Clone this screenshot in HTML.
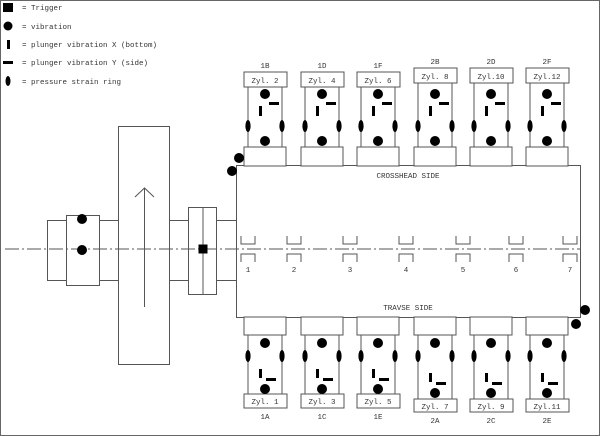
<!DOCTYPE html>
<html><head><meta charset="utf-8"><style>
html,body{margin:0;padding:0;background:#fff}
svg{display:block}
text{font-family:"Liberation Mono",monospace;font-size:7.5px;fill:#333;text-anchor:middle}
</style></head><body>
<svg width="600" height="436" viewBox="0 0 600 436" xmlns="http://www.w3.org/2000/svg">
<defs>
<g id="marksT" stroke="none" fill="#000">
<circle cx="0" cy="94" r="5"/><circle cx="0" cy="141" r="5"/>
<ellipse cx="-17" cy="126" rx="2.6" ry="6"/><ellipse cx="17" cy="126" rx="2.6" ry="6"/>
<rect x="4" y="102" width="10" height="3"/><rect x="-6" y="106" width="3" height="10"/>
</g>
<g id="top" stroke="#555" stroke-width="1" fill="#fff">
<rect x="-21" y="147" width="42" height="19"/>
<rect x="-17" y="87" width="34" height="60"/>
<rect x="-21" y="72" width="43" height="15"/>
<use href="#marksT"/>
</g>
<g id="top2" stroke="#555" stroke-width="1" fill="#fff">
<rect x="-21" y="147" width="42" height="19"/>
<rect x="-17" y="83" width="34" height="64"/>
<rect x="-21" y="68" width="43" height="15"/>
<use href="#marksT"/>
</g>
<g id="bot" stroke="#555" stroke-width="1" fill="#fff">
<rect x="-21" y="317" width="42" height="18"/>
<rect x="-17" y="335" width="34" height="59"/>
<rect x="-21" y="394" width="43" height="14"/>
<g stroke="none" fill="#000">
<circle cx="0" cy="343" r="5"/><circle cx="0" cy="389" r="5"/>
<ellipse cx="-17" cy="356" rx="2.6" ry="6"/><ellipse cx="17" cy="356" rx="2.6" ry="6"/>
<rect x="-6" y="369" width="3" height="9"/><rect x="1" y="378" width="10" height="3"/>
</g>
</g>
<g id="bot2" stroke="#555" stroke-width="1" fill="#fff">
<rect x="-21" y="317" width="42" height="18"/>
<rect x="-17" y="335" width="34" height="64"/>
<rect x="-21" y="399" width="43" height="13"/>
<g stroke="none" fill="#000">
<circle cx="0" cy="343" r="5"/><circle cx="0" cy="393" r="5"/>
<ellipse cx="-17" cy="356" rx="2.6" ry="6"/><ellipse cx="17" cy="356" rx="2.6" ry="6"/>
<rect x="-6" y="373" width="3" height="9"/><rect x="1" y="382" width="10" height="3"/>
</g>
</g>
<g id="brg" stroke="#555" stroke-width="1" fill="none">
<path d="M-7 236 V244 H7 V236"/><path d="M-7 262 V254 H7 V262"/>
</g>
</defs>
<rect x="0.5" y="0.5" width="599" height="435" fill="#fff" stroke="#666"/>
<rect x="3" y="3" width="10" height="9" fill="#000"/>
<circle cx="8" cy="26" r="4.5" fill="#000"/>
<rect x="7" y="40" width="3" height="9" fill="#000"/>
<rect x="3" y="61" width="10" height="3" fill="#000"/>
<ellipse cx="8" cy="81" rx="2.5" ry="5" fill="#000"/>
<text x="22" y="10" style="text-anchor:start">= Trigger</text>
<text x="22" y="29" style="text-anchor:start">= vibration</text>
<text x="22" y="47" style="text-anchor:start">= plunger vibration X (bottom)</text>
<text x="22" y="65" style="text-anchor:start">= plunger vibration Y (side)</text>
<text x="22" y="84" style="text-anchor:start">= pressure strain ring</text>
<rect x="236.5" y="165.5" width="344" height="152" fill="#fff" stroke="#555"/>
<text x="408" y="178">CROSSHEAD SIDE</text>
<text x="408" y="310">TRAVSE SIDE</text>
<g stroke="#555" fill="#fff">
<rect x="47.5" y="220.5" width="71" height="60"/>
<rect x="66.5" y="215.5" width="33" height="70"/>
<rect x="118.5" y="126.5" width="51" height="238"/>
<rect x="169.5" y="220.5" width="67" height="60"/>
<rect x="188.5" y="207.5" width="28" height="87"/>
<line x1="203" y1="207" x2="203" y2="294"/>
<line x1="144.5" y1="188" x2="144.5" y2="307"/>
<path d="M135 197 L144.5 188 L154 197" fill="none"/>
</g>
<line x1="5" y1="249" x2="580" y2="249" stroke="#555" stroke-dasharray="14 3 2 3"/>
<circle cx="82" cy="219" r="5" fill="#000"/>
<circle cx="82" cy="250" r="5" fill="#000"/>
<rect x="198.5" y="244.5" width="9" height="9" fill="#000"/>
<use href="#brg" x="248"/><use href="#brg" x="294"/><use href="#brg" x="350"/><use href="#brg" x="406"/><use href="#brg" x="463"/><use href="#brg" x="516"/><use href="#brg" x="570"/>
<text x="248" y="272">1</text><text x="294" y="272">2</text><text x="350" y="272">3</text><text x="406" y="272">4</text><text x="463" y="272">5</text><text x="516" y="272">6</text><text x="570" y="272">7</text>
<use href="#top" x="265"/><use href="#top" x="322"/><use href="#top" x="378"/>
<use href="#top2" x="435"/><use href="#top2" x="491"/><use href="#top2" x="547"/>
<text x="265" y="83">Zyl. 2</text><text x="322" y="83">Zyl. 4</text><text x="378" y="83">Zyl. 6</text>
<text x="435" y="79">Zyl. 8</text><text x="491" y="79">Zyl.10</text><text x="547" y="79">Zyl.12</text>
<text x="265" y="68">1B</text><text x="322" y="68">1D</text><text x="378" y="68">1F</text>
<text x="435" y="64">2B</text><text x="491" y="64">2D</text><text x="547" y="64">2F</text>
<use href="#bot" x="265"/><use href="#bot" x="322"/><use href="#bot" x="378"/>
<use href="#bot2" x="435"/><use href="#bot2" x="491"/><use href="#bot2" x="547"/>
<text x="265" y="404">Zyl. 1</text><text x="322" y="404">Zyl. 3</text><text x="378" y="404">Zyl. 5</text>
<text x="435" y="409">Zyl. 7</text><text x="491" y="409">Zyl. 9</text><text x="547" y="409">Zyl.11</text>
<text x="265" y="419">1A</text><text x="322" y="419">1C</text><text x="378" y="419">1E</text>
<text x="435" y="423">2A</text><text x="491" y="423">2C</text><text x="547" y="423">2E</text>
<circle cx="239" cy="158" r="5" fill="#000"/>
<circle cx="232" cy="171" r="5" fill="#000"/>
<circle cx="585" cy="310" r="5" fill="#000"/>
<circle cx="576" cy="324" r="5" fill="#000"/>
</svg>
</body></html>
